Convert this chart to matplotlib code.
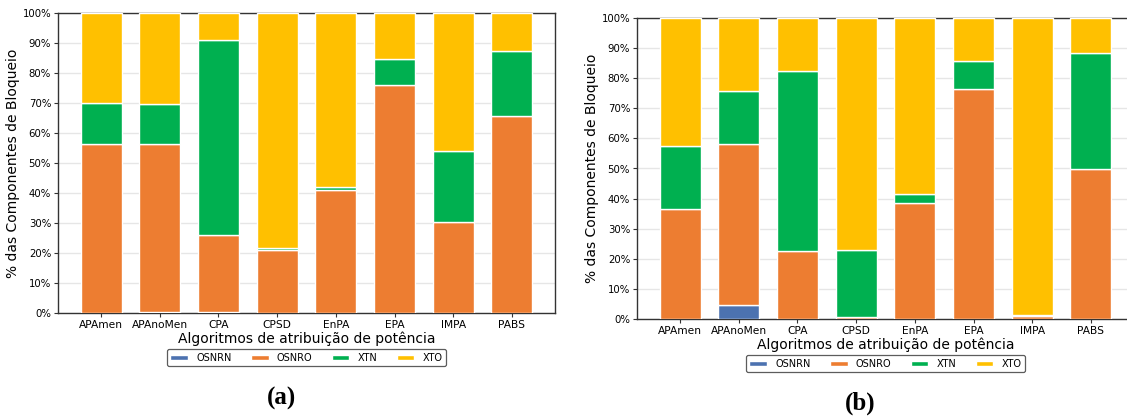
import matplotlib
matplotlib.use("Agg")
import matplotlib.pyplot as plt
import numpy as np
from matplotlib.ticker import PercentFormatter

algorithms = ["APAmen", "APAnoMen", "CPA", "CPSD", "EnPA", "EPA", "IMPA", "PABS"]
components = ["OSNRN", "OSNRO", "XTN", "XTO"]
colors = ["#4C72B0", "#ED7D31", "#00B050", "#FFC000"]

# Scenario (a): share of each blocking component per algorithm (%)
osnrn_a = [0.0, 0.3, 0.3, 0.0, 0.0, 0.0, 0.0, 0.0]
osnro_a = [56.3, 55.9, 25.75, 21.1, 40.9, 76.1, 30.4, 65.6]
xtn_a = [13.7, 13.6, 64.95, 0.4, 1.2, 8.7, 23.5, 21.8]
xto_a = [30.0, 30.2, 9.0, 78.5, 57.9, 15.2, 46.1, 12.6]

# Scenario (b)
osnrn_b = [0.0, 4.6, 0.0, 0.0, 0.0, 0.0, 0.0, 0.0]
osnro_b = [36.7, 53.7, 22.6, 0.5, 38.5, 76.5, 1.0, 49.8]
xtn_b = [20.8, 17.5, 59.8, 22.4, 2.9, 9.3, 0.3, 38.6]
xto_b = [42.5, 24.2, 17.6, 77.1, 58.6, 14.2, 98.7, 11.6]

fig = plt.figure(figsize=(11.27, 4.19), dpi=100)


def draw_panel(ax, series, tag, tag_xy, legend_y):
    x = np.arange(len(algorithms))
    bottom = np.zeros(len(algorithms))
    handles = []
    for name, vals, col in zip(components, series, colors):
        vals = np.asarray(vals, dtype=float)
        h = ax.bar(x, vals, width=0.7, bottom=bottom, color=col,
                   edgecolor="white", linewidth=1.0, label=name, zorder=3)
        handles.append(h)
        bottom += vals
    ax.set_xticks(x)
    ax.set_xticklabels(algorithms, fontsize=7.7)
    ax.set_ylim(0, 100)
    ax.set_yticks(np.arange(0, 101, 10))
    ax.yaxis.set_major_formatter(PercentFormatter(decimals=0))
    ax.tick_params(axis="y", labelsize=7.3, length=3, width=0.8,
                   color="#333333", pad=2)
    ax.tick_params(axis="x", length=3, width=0.8, color="#333333", pad=2)
    ax.grid(axis="y", color="#e6e6e6", linewidth=1.0, zorder=0)
    ax.set_axisbelow(True)
    for sp in ax.spines.values():
        sp.set_color("#333333")
        sp.set_linewidth(1.0)
    ax.set_ylabel("% das Componentes de Bloqueio", fontsize=10)
    ax.yaxis.set_label_coords(-38 / 497, 0.5)
    ax.set_xlabel("Algoritmos de atribuição de potência", fontsize=10, labelpad=1)
    leg = ax.legend(handles=[h[0] for h in handles], labels=components,
                    loc="upper center", bbox_to_anchor=(0.5, legend_y), ncol=4,
                    fontsize=7, frameon=True, fancybox=True,
                    handlelength=1.8, handleheight=0.5, columnspacing=2.0,
                    borderpad=0.35, handletextpad=0.85)
    leg.get_frame().set_edgecolor("#333333")
    leg.get_frame().set_linewidth(0.9)
    fig.text(tag_xy[0], tag_xy[1], tag, ha="center", va="center",
             fontsize=18, fontweight="bold", family="Liberation Serif")


ax_a = fig.add_axes([58 / 1127, 1 - 313 / 419, 497 / 1127, 300 / 419])
draw_panel(ax_a, [osnrn_a, osnro_a, xtn_a, xto_a], "(a)",
           (282 / 1127, 1 - 398 / 419), -0.105)

ax_b = fig.add_axes([637 / 1127, 1 - 319 / 419, 497 / 1127, 301 / 419])
draw_panel(ax_b, [osnrn_b, osnro_b, xtn_b, xto_b], "(b)",
           (860 / 1127, 1 - 403 / 419), -0.105)

fig.savefig("out.png", dpi=100, facecolor="white")
